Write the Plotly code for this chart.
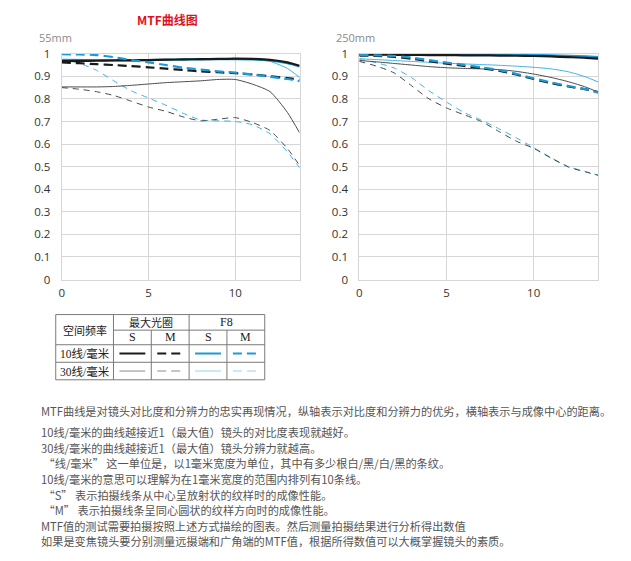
import plotly.graph_objects as go

W, H = 631, 561

# ---------------- data ----------------
X = [0, 1, 2, 3, 4, 5, 6, 7, 8, 9, 10, 11, 12, 13, 13.7]

# 55mm
L_S10_MAX = [0.967, 0.968, 0.969, 0.970, 0.971, 0.972, 0.974, 0.975, 0.976, 0.977, 0.978, 0.977, 0.973, 0.962, 0.947]
L_M10_MAX = [0.962, 0.958, 0.954, 0.950, 0.945, 0.940, 0.934, 0.928, 0.922, 0.918, 0.914, 0.908, 0.900, 0.892, 0.885]
L_S10_F8 = [0.972, 0.972, 0.972, 0.972, 0.972, 0.972, 0.973, 0.974, 0.975, 0.976, 0.976, 0.975, 0.970, 0.958, 0.944]
L_M10_F8 = [0.998, 0.997, 0.994, 0.985, 0.972, 0.962, 0.950, 0.938, 0.930, 0.922, 0.916, 0.908, 0.898, 0.888, 0.878]
L_S30_MAX = [0.853, 0.853, 0.853, 0.855, 0.860, 0.866, 0.872, 0.876, 0.880, 0.886, 0.886, 0.865, 0.832, 0.740, 0.650]
L_M30_MAX = [0.850, 0.843, 0.832, 0.815, 0.790, 0.764, 0.745, 0.720, 0.703, 0.710, 0.717, 0.695, 0.660, 0.580, 0.505]
L_S30_F8 = [0.976, 0.975, 0.974, 0.973, 0.973, 0.973, 0.974, 0.975, 0.976, 0.977, 0.977, 0.975, 0.966, 0.935, 0.895]
L_M30_F8 = [0.975, 0.958, 0.927, 0.880, 0.836, 0.804, 0.772, 0.736, 0.707, 0.703, 0.700, 0.685, 0.645, 0.565, 0.495]

# 250mm
R_S10_MAX = [0.996, 0.996, 0.995, 0.995, 0.994, 0.994, 0.993, 0.993, 0.992, 0.991, 0.990, 0.988, 0.985, 0.982, 0.978]
R_S10_F8 = [0.998, 0.998, 0.998, 0.997, 0.997, 0.997, 0.996, 0.996, 0.995, 0.995, 0.994, 0.993, 0.991, 0.988, 0.985]
R_M10_MAX = [0.992, 0.990, 0.986, 0.978, 0.967, 0.956, 0.946, 0.936, 0.925, 0.908, 0.888, 0.870, 0.855, 0.842, 0.830]
R_M10_F8 = [0.995, 0.993, 0.990, 0.983, 0.972, 0.961, 0.951, 0.940, 0.928, 0.911, 0.891, 0.873, 0.857, 0.843, 0.828]
R_S30_MAX = [0.970, 0.964, 0.957, 0.950, 0.943, 0.938, 0.935, 0.933, 0.930, 0.922, 0.910, 0.895, 0.876, 0.852, 0.830]
R_S30_F8 = [0.978, 0.974, 0.970, 0.966, 0.962, 0.958, 0.955, 0.952, 0.949, 0.945, 0.940, 0.933, 0.920, 0.897, 0.875]
R_M30_MAX = [0.966, 0.945, 0.915, 0.858, 0.800, 0.760, 0.730, 0.700, 0.656, 0.613, 0.581, 0.538, 0.498, 0.476, 0.462]
R_M30_F8 = [0.975, 0.960, 0.937, 0.894, 0.836, 0.786, 0.740, 0.706, 0.668, 0.628, 0.584, 0.540, 0.500, 0.478, 0.462]

Y_TICKS = [0, 0.1, 0.2, 0.3, 0.4, 0.5, 0.6, 0.7, 0.8, 0.9, 1]
Y_TICK_TEXT = ["0", "0.1", "0.2", "0.3", "0.4", "0.5", "0.6", "0.7", "0.8", "0.9", "1"]
X_TICKS = [0, 5, 10]
X_TICK_TEXT = ["0", "5", "10"]

TITLE = "MTF曲线图"
LABEL_LEFT = "55mm"
LABEL_RIGHT = "250mm"

TABLE_HEAD = ["空间频率", "最大光圈", "F8"]
TABLE_SUB = ["S", "M", "S", "M"]
TABLE_ROWS = ["10线/毫米", "30线/毫米"]

BODY = [
    "MTF曲线是对镜头对比度和分辨力的忠实再现情况，纵轴表示对比度和分辨力的优劣，横轴表示与成像中心的距离。",
    "10线/毫米的曲线越接近1（最大值）镜头的对比度表现就越好。",
    "30线/毫米的曲线越接近1（最大值）镜头分辨力就越高。",
    " “线/毫米” 这一单位是，以1毫米宽度为单位，其中有多少根白/黑/白/黑的条纹。",
    "10线/毫米的意思可以理解为在1毫米宽度的范围内排列有10条线。",
    " “S” 表示拍摄线条从中心呈放射状的纹样时的成像性能。",
    " “M” 表示拍摄线条呈同心圆状的纹样方向时的成像性能。",
    "MTF值的测试需要拍摄按照上述方式描绘的图表。然后测量拍摄结果进行分析得出数值",
    "如果是变焦镜头要分别测量远摄端和广角端的MTF值，根据所得数值可以大概掌握镜头的素质。",
]

# ---------------- styles ----------------
BLACK = "#1a1a1a"
DARK = "#4a4a4a"
BLUE = "#1c9ad6"
LBLUE = "#3fb2e6"
THICK_DASH = "9px,5px"
THIN_DASH = "6px,5px"

def px(x):
    return x / W

def py(y):
    return 1 - y / H

fig = go.Figure()

def add_series(xa, ya, data, color, width, dash):
    fig.add_trace(go.Scatter(x=X, y=data, mode="lines", xaxis=xa, yaxis=ya,
                             line=dict(color=color, width=width, dash=dash, shape="spline", smoothing=0.6),
                             showlegend=False, hoverinfo="skip"))

for xa, ya, d in [("x", "y", [L_S30_F8, L_M30_F8, L_S30_MAX, L_M30_MAX, L_S10_F8, L_M10_F8, L_S10_MAX, L_M10_MAX]),
                  ("x2", "y2", [R_S30_F8, R_M30_F8, R_S30_MAX, R_M30_MAX, R_S10_F8, R_M10_F8, R_S10_MAX, R_M10_MAX])]:
    add_series(xa, ya, d[0], LBLUE, 1, "solid")
    add_series(xa, ya, d[1], LBLUE, 1, THIN_DASH)
    add_series(xa, ya, d[2], DARK, 1, "solid")
    add_series(xa, ya, d[3], DARK, 1, THIN_DASH)
    add_series(xa, ya, d[4], BLUE, 2.2, "solid")
    add_series(xa, ya, d[6], BLACK, 2.2, "solid")
    add_series(xa, ya, d[7], BLACK, 2.2, THICK_DASH)
    add_series(xa, ya, d[5], BLUE, 2.2, THICK_DASH)

GRID = "#d6d6d6"
tickfont = dict(family="Open Sans", size=11.5, color="#333333")

def xaxis(dom):
    return dict(domain=dom, range=[0, 13.7], tickvals=X_TICKS, ticktext=X_TICK_TEXT,
                showgrid=True, gridcolor=GRID, gridwidth=1, zeroline=False,
                showline=True, linecolor=GRID, linewidth=1, mirror=True,
                ticks="outside", ticklen=3, tickcolor="rgba(0,0,0,0)", tickfont=tickfont)

def yaxis(anchor):
    return dict(domain=[py(279), py(47)], range=[0, 1], tickvals=Y_TICKS, ticktext=Y_TICK_TEXT,
                showgrid=True, gridcolor=GRID, gridwidth=1, zeroline=False, anchor=anchor,
                showline=True, linecolor=GRID, linewidth=1, mirror=True,
                ticks="outside", ticklen=8, tickcolor="rgba(0,0,0,0)", tickfont=tickfont)

annotations = []

def text(t, x, y, size=12, color="#555555", family="Noto Sans CJK SC", xanchor="left", bold=False):
    annotations.append(dict(text=("<b>%s</b>" % t) if bold else t, x=px(x), y=py(y), xref="paper", yref="paper",
                            xanchor=xanchor, yanchor="middle", showarrow=False, borderpad=0,
                            font=dict(family=family, size=size, color=color)))

text(TITLE, 165, 12, size=12, color="#e0101e", family="Noto Sans CJK SC", xanchor="center", bold=True)
text(LABEL_LEFT, 35, 30, size=11, color="#8a8a8a", family="Open Sans")
text(LABEL_RIGHT, 334, 30, size=11, color="#8a8a8a", family="Open Sans")

# table
shapes = []
TB = "#7a7a7a"

def hline(x0, x1, y, color=TB, width=1, dash="solid"):
    shapes.append(dict(type="line", xref="paper", yref="paper", x0=px(x0), x1=px(x1), y0=py(y), y1=py(y),
                       line=dict(color=color, width=width, dash=dash)))

def vline(x, y0, y1):
    shapes.append(dict(type="line", xref="paper", yref="paper", x0=px(x), x1=px(x), y0=py(y0), y1=py(y1),
                       line=dict(color=TB, width=1)))

hline(53, 263, 315)
hline(111, 263, 331)
hline(53, 263, 346)
hline(53, 263, 364)
hline(53, 263, 382)
vline(53, 315, 382)
vline(111, 315, 382)
vline(187, 315, 382)
vline(263, 315, 382)
vline(149, 331, 382)
vline(225, 331, 382)

TF = "Liberation Serif, Noto Sans CJK SC"
text(TABLE_HEAD[0], 82, 331, size=11, color="#222222", family=TF, xanchor="center")
text(TABLE_HEAD[1], 149, 323, size=11, color="#222222", family=TF, xanchor="center")
text(TABLE_HEAD[2], 225, 323, size=12, color="#222222", family=TF, xanchor="center")
for i, cx in enumerate([130, 168, 206, 244]):
    text(TABLE_SUB[i], cx, 338.5, size=12, color="#222222", family=TF, xanchor="center")
text(TABLE_ROWS[0], 82, 355, size=11.5, color="#222222", family=TF, xanchor="center")
text(TABLE_ROWS[1], 82, 373, size=11.5, color="#222222", family=TF, xanchor="center")

# legend samples
hline(117, 143, 355, BLACK, 2)
hline(155, 181, 355, BLACK, 2, "9px,5px")
hline(193, 219, 355, BLUE, 2)
hline(231, 257, 355, BLUE, 2, "9px,5px")
hline(117, 143, 373, "#8a8a8a", 1)
hline(155, 181, 373, "#8a8a8a", 1, "9px,5px")
hline(193, 219, 373, "#8fd3f2", 1)
hline(231, 257, 373, "#8fd3f2", 1, "9px,5px")

# body text
body_pos = [(37, 414), (37, 436), (37, 452), (37, 468), (37, 484), (37, 500), (37, 516), (37, 532), (37, 548)]
for t, (bx, by) in zip(BODY, body_pos):
    text(t, bx, by, size=11.2, color="#555555")

fig.update_layout(
    width=W, height=H, margin=dict(l=0, r=0, t=0, b=0),
    paper_bgcolor="white", plot_bgcolor="white",
    xaxis=xaxis([px(59), px(298)]), yaxis=yaxis("x"),
    xaxis2=dict(xaxis([px(358), px(598)]), anchor="y2"), yaxis2=yaxis("x2"),
    annotations=annotations, shapes=shapes,
)
fig.update_layout(xaxis=dict(anchor="y"))

fig.write_html("out.html")
